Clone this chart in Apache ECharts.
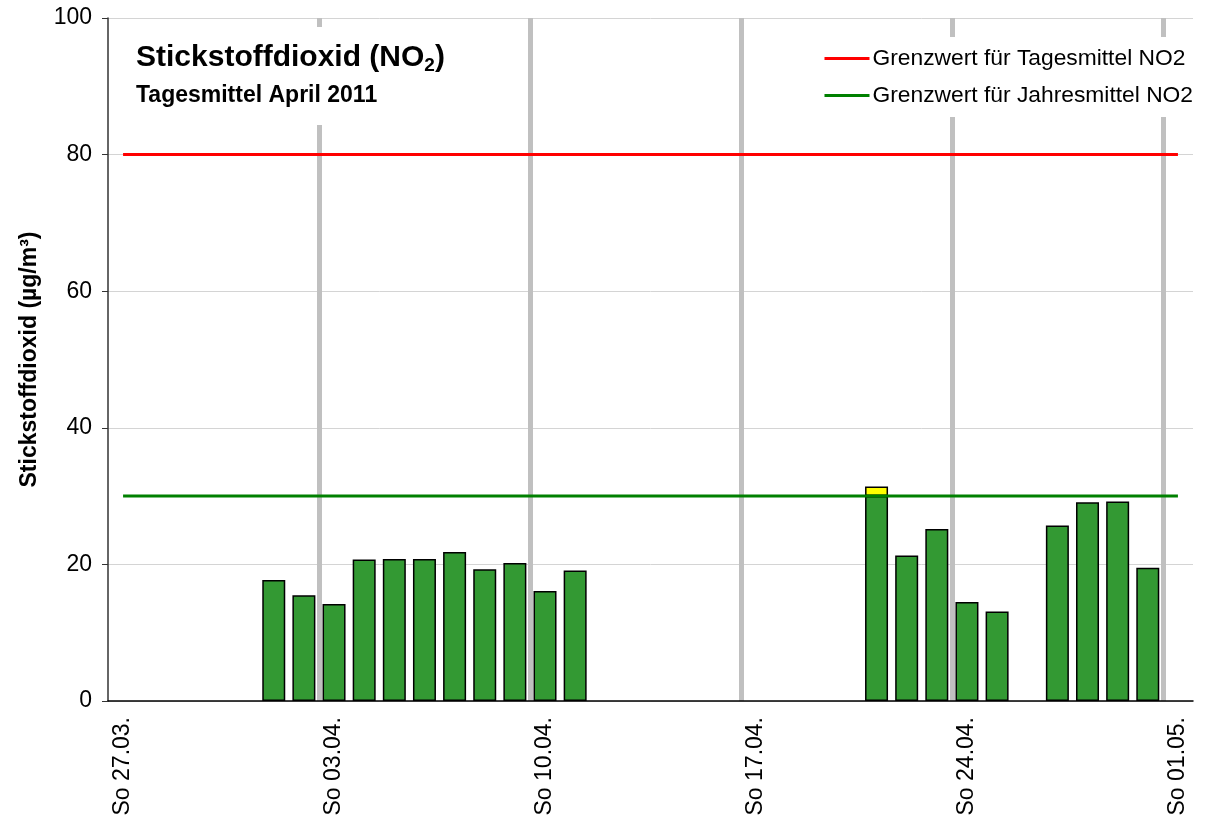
<!DOCTYPE html>
<html>
<head>
<meta charset="utf-8">
<script src="https://cdn.jsdelivr.net/npm/echarts@6/dist/echarts.min.js"></script>
<style>
html,body{margin:0;padding:0;background:#fff;}
#chart{width:1205px;height:819px;}
</style>
</head>
<body>
<div id="chart"></div>
<script>
const categories = [
  'So 27.03.','Mo 28.03.','Di 29.03.','Mi 30.03.','Do 31.03.','Fr 01.04.','Sa 02.04.',
  'So 03.04.','Mo 04.04.','Di 05.04.','Mi 06.04.','Do 07.04.','Fr 08.04.','Sa 09.04.',
  'So 10.04.','Mo 11.04.','Di 12.04.','Mi 13.04.','Do 14.04.','Fr 15.04.','Sa 16.04.',
  'So 17.04.','Mo 18.04.','Di 19.04.','Mi 20.04.','Do 21.04.','Fr 22.04.','Sa 23.04.',
  'So 24.04.','Mo 25.04.','Di 26.04.','Mi 27.04.','Do 28.04.','Fr 29.04.','Sa 30.04.',
  'So 01.05.'
];
const no2Values = [
  null, null, null, null, null, 17.7, 15.5,
  14.2, 20.7, 20.8, 20.8, 21.8, 19.3, 20.2,
  16.1, 19.1, null, null, null, null, null,
  null, null, null, null, 31.4, 21.3, 25.2,
  14.5, 13.1, null, 25.7, 29.1, 29.2, 19.5,
  null
];
const limitDay = 80;   // Grenzwert für Tagesmittel NO2
const limitYear = 30;  // Grenzwert für Jahresmittel NO2
const yTicks = [0, 20, 40, 60, 80, 100];
const legendNames = ['Grenzwert für Tagesmittel NO2', 'Grenzwert für Jahresmittel NO2'];

const baseValues = no2Values.map(v => v == null ? null : Math.min(v, limitYear));
const excessValues = no2Values.map(v => (v == null || v <= limitYear) ? null : +(v - limitYear).toFixed(1));

const FONT = '"Liberation Sans", Arial, Helvetica, sans-serif';
const chart = echarts.init(document.getElementById('chart'), null, {renderer: 'canvas'});
const isSunday = (i, v) => String(v).indexOf('So ') === 0;

chart.setOption({
  animation: false,
  backgroundColor: '#ffffff',
  textStyle: {fontFamily: FONT},
  title: {
    text: '{a|Stickstoffdioxid (NO}{b|2}{a|)}',
    subtext: 'Tagesmittel April 2011',
    left: 126,
    top: 25,
    padding: [16, 12, 18, 10],
    itemGap: 11,
    backgroundColor: '#ffffff',
    textStyle: {
      fontFamily: FONT,
      rich: {
        a: {fontSize: 30, fontWeight: 'bold', color: '#000', fontFamily: FONT},
        b: {fontSize: 19, fontWeight: 'bold', color: '#000', fontFamily: FONT, padding: [15, 0, 0, 0]}
      }
    },
    subtextStyle: {fontSize: 23, fontWeight: 'bold', color: '#000', fontFamily: FONT}
  },
  legend: {
    data: legendNames,
    orient: 'vertical',
    right: 2,
    top: 37,
    padding: [10, 10, 10, 8],
    backgroundColor: '#ffffff',
    itemWidth: 45,
    itemHeight: 3,
    itemGap: 14,
    icon: 'rect',
    textStyle: {fontSize: 22.8, color: '#000', fontFamily: FONT, padding: [0, 0, 0, -2]}
  },
  grid: {left: 108, right: 12, top: 18, bottom: 118, containLabel: false},
  xAxis: {
    type: 'category',
    data: categories,
    boundaryGap: true,
    axisLine: {show: true, lineStyle: {color: '#000', width: 1.5}},
    axisTick: {show: false},
    axisLabel: {
      interval: isSunday,
      rotate: 90,
      margin: 16,
      fontSize: 23,
      color: '#000',
      fontFamily: FONT
    },
    splitLine: {
      show: true,
      interval: isSunday,
      showMinLine: false,
      showMaxLine: false,
      lineStyle: {color: '#c0c0c0', width: 5}
    }
  },
  yAxis: {
    type: 'value',
    min: yTicks[0],
    max: yTicks[yTicks.length - 1],
    interval: 20,
    name: 'Stickstoffdioxid (µg/m³)',
    nameLocation: 'middle',
    nameGap: 67,
    nameTextStyle: {fontSize: 23, fontWeight: 'bold', color: '#000', fontFamily: FONT},
    axisLine: {show: true, lineStyle: {color: '#333', width: 1.5}},
    axisTick: {show: true, inside: false, length: 6, lineStyle: {color: '#333', width: 1}},
    axisLabel: {fontSize: 23, color: '#000', margin: 16, fontFamily: FONT},
    splitLine: {show: true, lineStyle: {color: '#d4d4d4', width: 1}}
  },
  series: [
    {
      name: 'Tagesmittel',
      type: 'bar',
      stack: 'no2',
      barWidth: 23,
      data: baseValues,
      itemStyle: {color: '#339933', borderColor: '#000', borderWidth: 1.5},
      z: 3
    },
    {
      name: 'Überschreitung',
      type: 'bar',
      stack: 'no2',
      barWidth: 23,
      data: excessValues,
      itemStyle: {color: '#ffff00', borderColor: '#000', borderWidth: 1.5},
      z: 3
    },
    {
      name: legendNames[0],
      type: 'line',
      data: [[categories[0], limitDay], [categories[categories.length - 1], limitDay]],
      symbol: 'none',
      color: '#ff0000',
      lineStyle: {color: '#ff0000', width: 3},
      z: 5
    },
    {
      name: legendNames[1],
      type: 'line',
      data: [[categories[0], limitYear], [categories[categories.length - 1], limitYear]],
      symbol: 'none',
      color: '#008000',
      lineStyle: {color: '#008000', width: 3},
      z: 5
    }
  ]
});
</script>
</body>
</html>
